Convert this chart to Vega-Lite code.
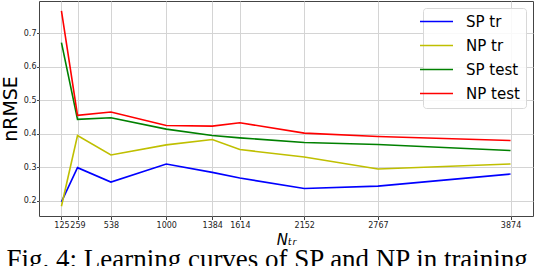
{
  "$schema": "https://vega.github.io/schema/vega-lite/v6.json",
  "autosize": "none",
  "padding": {"left": 39, "top": 1, "right": 1, "bottom": 50},
  "width": 494,
  "height": 215,
  "background": "white",
  "title": {
    "text": "Fig. 4: Learning curves of SP and NP in training",
    "orient": "bottom",
    "anchor": "middle",
    "frame": "bounds",
    "font": "Liberation Serif",
    "fontSize": 27,
    "fontWeight": "normal",
    "color": "#000000",
    "offset": 0
  },
  "data": {
    "values": [
      {"n": 125, "series": "SP tr", "v": 0.197},
      {"n": 259, "series": "SP tr", "v": 0.299},
      {"n": 538, "series": "SP tr", "v": 0.256},
      {"n": 1000, "series": "SP tr", "v": 0.310},
      {"n": 1384, "series": "SP tr", "v": 0.285},
      {"n": 1614, "series": "SP tr", "v": 0.268},
      {"n": 2152, "series": "SP tr", "v": 0.237},
      {"n": 2767, "series": "SP tr", "v": 0.244},
      {"n": 3874, "series": "SP tr", "v": 0.280},
      {"n": 125, "series": "NP tr", "v": 0.184},
      {"n": 259, "series": "NP tr", "v": 0.395},
      {"n": 538, "series": "NP tr", "v": 0.337},
      {"n": 1000, "series": "NP tr", "v": 0.367},
      {"n": 1384, "series": "NP tr", "v": 0.383},
      {"n": 1614, "series": "NP tr", "v": 0.353},
      {"n": 2152, "series": "NP tr", "v": 0.331},
      {"n": 2767, "series": "NP tr", "v": 0.295},
      {"n": 3874, "series": "NP tr", "v": 0.310},
      {"n": 125, "series": "SP test", "v": 0.672},
      {"n": 259, "series": "SP test", "v": 0.443},
      {"n": 538, "series": "SP test", "v": 0.448},
      {"n": 1000, "series": "SP test", "v": 0.414},
      {"n": 1384, "series": "SP test", "v": 0.395},
      {"n": 1614, "series": "SP test", "v": 0.388},
      {"n": 2152, "series": "SP test", "v": 0.374},
      {"n": 2767, "series": "SP test", "v": 0.368},
      {"n": 3874, "series": "SP test", "v": 0.350},
      {"n": 125, "series": "NP test", "v": 0.767},
      {"n": 259, "series": "NP test", "v": 0.455},
      {"n": 538, "series": "NP test", "v": 0.465},
      {"n": 1000, "series": "NP test", "v": 0.425},
      {"n": 1384, "series": "NP test", "v": 0.423},
      {"n": 1614, "series": "NP test", "v": 0.433},
      {"n": 2152, "series": "NP test", "v": 0.402},
      {"n": 2767, "series": "NP test", "v": 0.392},
      {"n": 3874, "series": "NP test", "v": 0.380}
    ]
  },
  "mark": {"type": "line", "strokeWidth": 1.6, "clip": true},
  "encoding": {
    "x": {
      "field": "n",
      "type": "quantitative",
      "scale": {"domain": [-62.45, 4061.45], "nice": false, "zero": false},
      "axis": {
        "values": [125, 259, 538, 1000, 1384, 1614, 2152, 2767, 3874],
        "format": "d",
        "labelOverlap": false,
        "labelFlush": false,
        "labelPadding": 1.5,
        "title": "Nₜᵣ",
        "titleFont": "DejaVu Sans",
        "titleFontStyle": "italic",
        "titleFontWeight": "normal",
        "titleFontSize": 15,
        "titlePadding": 3,
        "titleColor": "#000000"
      }
    },
    "y": {
      "field": "v",
      "type": "quantitative",
      "scale": {"domain": [0.1548, 0.7962], "nice": false, "zero": false},
      "axis": {
        "values": [0.2, 0.3, 0.4, 0.5, 0.6, 0.7],
        "format": ".1f",
        "tickSize": 2.5,
        "labelPadding": 0.5,
        "title": "nRMSE",
        "titleFont": "DejaVu Sans",
        "titleFontWeight": "normal",
        "titleFontSize": 19,
        "titlePadding": 3,
        "titleColor": "#000000"
      }
    },
    "color": {
      "field": "series",
      "type": "nominal",
      "sort": ["SP tr", "NP tr", "SP test", "NP test"],
      "scale": {
        "domain": ["SP tr", "NP tr", "SP test", "NP test"],
        "range": ["#0000ff", "#bfbf00", "#008000", "#ff0000"]
      },
      "legend": {
        "title": null,
        "orient": "top-right",
        "offset": 7,
        "symbolType": "M-3,0H3",
        "symbolSize": 121,
        "symbolStrokeWidth": 1.6,
        "labelFont": "DejaVu Sans",
        "labelFontSize": 15,
        "labelColor": "#000000",
        "labelOffset": 22,
        "rowPadding": 8,
        "padding": 6,
        "strokeColor": "#d8d8d8",
        "fillColor": "rgba(255,255,255,0.85)",
        "cornerRadius": 3
      }
    }
  },
  "config": {
    "view": {"stroke": "#444444", "strokeWidth": 1},
    "axis": {
      "domain": false,
      "grid": true,
      "gridColor": "#d4d4d4",
      "gridWidth": 1,
      "ticks": true,
      "tickColor": "#444444",
      "tickSize": 3.5,
      "labelFont": "DejaVu Sans",
      "labelFontSize": 8,
      "labelColor": "#222222"
    }
  }
}
